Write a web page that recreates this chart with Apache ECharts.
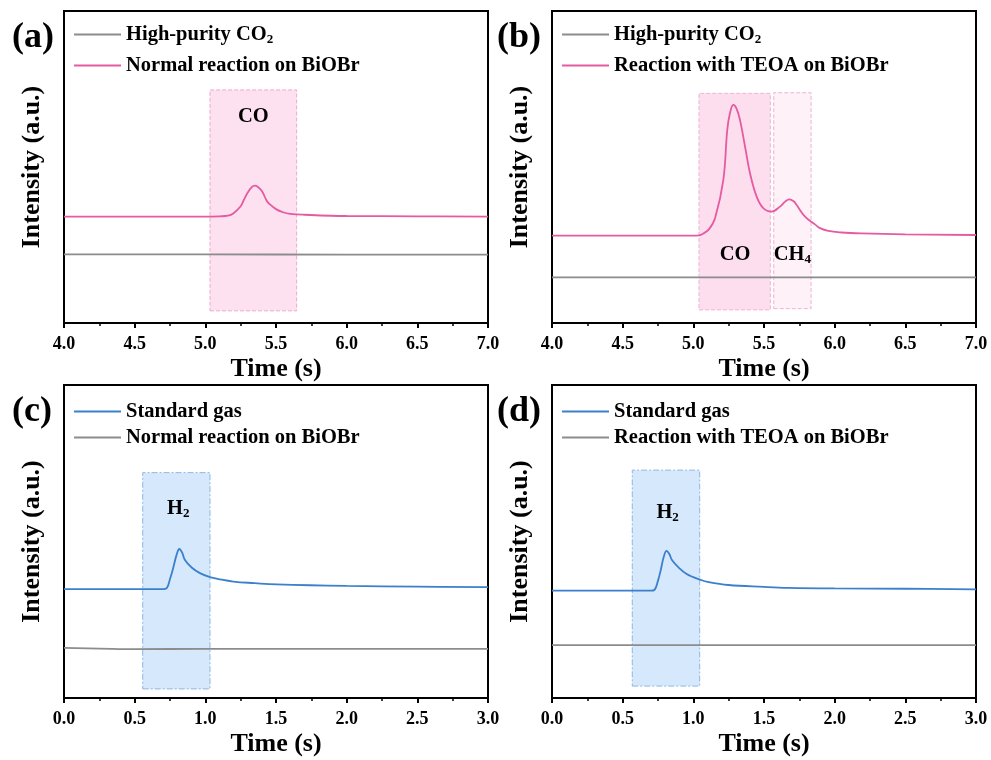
<!DOCTYPE html>
<html><head><meta charset="utf-8">
<script src="https://cdn.jsdelivr.net/npm/echarts@6/dist/echarts.min.js"></script>
<style>html,body{margin:0;padding:0;background:#fff}#c{width:991px;height:760px}</style>
</head><body><div id="c"></div>
<script>
// ---------- DATA ----------
// Panel (a)
const timeA_pink = [4.0, 5.0, 5.1, 5.16, 5.2, 5.25, 5.27, 5.3, 5.33, 5.35, 5.37, 5.4, 5.434, 5.45, 5.5, 5.55, 5.6, 5.7, 6.0, 6.5, 7.0];
const valA_pink  = [34.1, 34.1, 34.2, 34.4, 35.2, 37.4, 39.2, 41.8, 43.6, 44.0, 43.7, 42.3, 39.2, 38.3, 36.5, 35.5, 35.0, 34.7, 34.3, 34.2, 34.1];
const timeA_gray = [4.0, 5.0, 6.0, 7.0];
const valA_gray  = [22.0, 22.0, 21.9, 21.9];
// Panel (b)
const timeB_pink = [4.0, 5.0, 5.04, 5.071, 5.11, 5.153, 5.212, 5.24, 5.259, 5.283, 5.305, 5.33, 5.366, 5.401, 5.448, 5.495, 5.554, 5.613, 5.65, 5.679, 5.71, 5.731, 5.79, 5.861, 5.896, 5.955, 6.05, 6.191, 6.5, 7.0];
const valB_pink  = [28.0, 28.0, 28.1, 28.7, 30.0, 33.5, 45.8, 61.9, 67.2, 69.9, 68.8, 65.1, 56.5, 48.0, 40.5, 36.8, 35.7, 37.3, 38.9, 39.6, 39.0, 37.8, 34.1, 31.6, 30.4, 29.5, 29.0, 28.7, 28.4, 28.2];
const timeB_gray = [4.0, 5.0, 6.0, 7.0];
const valB_gray  = [14.6, 14.6, 14.6, 14.6];
// Panel (c)
const timeC_blue = [0.0, 0.5, 0.70, 0.727, 0.75, 0.773, 0.797, 0.816, 0.835, 0.856, 0.903, 0.962, 1.033, 1.092, 1.198, 1.35, 1.505, 2.0, 2.5, 3.0];
const valC_blue  = [34.8, 34.8, 34.8, 35.1, 38.0, 41.6, 45.8, 47.6, 46.5, 44.1, 41.7, 39.9, 38.6, 38.0, 37.2, 36.7, 36.3, 35.8, 35.6, 35.4];
const timeC_gray = [0.0, 0.25, 0.5, 1.0, 2.0, 3.0];
const valC_gray  = [16.0, 15.8, 15.6, 15.7, 15.7, 15.7];
// Panel (d)
const timeD_blue = [0.0, 0.5, 0.70, 0.724, 0.75, 0.77, 0.79, 0.811, 0.83, 0.85, 0.90, 0.95, 1.0, 1.047, 1.1, 1.248, 1.5, 1.67, 2.0, 2.5, 3.0];
const valD_blue  = [34.3, 34.3, 34.3, 34.5, 37.5, 41.0, 45.0, 47.0, 46.0, 44.0, 41.5, 39.7, 38.6, 37.8, 37.1, 36.1, 35.5, 35.2, 35.0, 34.9, 34.7];
const timeD_gray = [0.0, 1.0, 2.0, 3.0];
const valD_gray  = [16.9, 16.9, 16.9, 16.9];
// Shaded regions [xStart, xEnd, yBottom, yTop]
const boxesA = [[5.033, 5.646, 3.9, 74.7]];
const boxesB = [[5.040, 5.545, 4.2, 73.6], [5.569, 5.833, 4.6, 73.8]];
const boxesC = [[0.557, 1.033, 2.9, 72.0]];
const boxesD = [[0.568, 1.045, 3.8, 72.8]];
// Box labels [x, y, text]
const labelsA = [[5.34, 66.0, '{n|CO}']];
const labelsB = [[5.295, 21.8, '{n|CO}'], [5.70, 21.8, '{n|CH}{s|4}']];
const labelsC = [[0.809, 60.6, '{n|H}{s|2}']];
const labelsD = [[0.818, 59.1, '{n|H}{s|2}']];
// Axis ticks
const xTicksTop = [4.0, 7.0, 0.5];
const xTicksBottom = [0.0, 3.0, 0.5];
const panelLetters = ['(a)', '(b)', '(c)', '(d)'];
const legendA = ['High-purity CO2', 'Normal reaction on BiOBr'];
const legendB = ['High-purity CO2', 'Reaction with TEOA on BiOBr'];
const legendC = ['Standard gas', 'Normal reaction on BiOBr'];
const legendD = ['Standard gas', 'Reaction with TEOA on BiOBr'];

// ---------- STYLE ----------
const FONT = "'Liberation Serif','Times New Roman',serif";
const PINK = '#E65AA0', GRAY = '#8C8C8C', BLUE = '#3A80CC';
const rich = {
  n: {fontFamily: FONT, fontWeight: 'bold', fontSize: 20.5, color: '#000'},
  s: {fontFamily: FONT, fontWeight: 'bold', fontSize: 13, color: '#000', padding: [10, 0, 0, 0]}
};
function fmt(name) {
  const m = name.match(/^(.*CO)2$/);
  if (m) return '{n|' + m[1] + '}{s|2}';
  return '{n|' + name + '}';
}

const grids = [
  {left: 64, top: 11, width: 424, height: 312},
  {left: 552, top: 11, width: 424, height: 312},
  {left: 64, top: 385, width: 424, height: 313},
  {left: 552, top: 385, width: 424, height: 313}
];

function xAxis(i, t) {
  return {
    type: 'value', gridIndex: i, min: t[0], max: t[1], interval: t[2],
    name: 'Time (s)', nameLocation: 'middle', nameGap: 33,
    nameTextStyle: {fontFamily: FONT, fontWeight: 'bold', fontSize: 26, color: '#000'},
    axisLine: {show: true, lineStyle: {color: '#000', width: 2}},
    axisTick: {show: true, length: 5, lineStyle: {color: '#000', width: 2}},
    minorTick: {show: true, splitNumber: 2, length: 3, lineStyle: {color: '#000', width: 1.5}},
    axisLabel: {fontFamily: FONT, fontWeight: 'bold', fontSize: 18, color: '#000', margin: 12,
      formatter: v => v.toFixed(1)},
    splitLine: {show: false}
  };
}
function yAxis(i) {
  return {
    type: 'value', gridIndex: i, min: 0, max: 100,
    name: 'Intensity (a.u.)', nameLocation: 'middle', nameGap: 19,
    nameTextStyle: {fontFamily: FONT, fontWeight: 'bold', fontSize: 26, color: '#000'},
    axisLine: {show: false}, axisTick: {show: false}, axisLabel: {show: false}, splitLine: {show: false}
  };
}
function lineSeries(name, xs, ys, color, i) {
  return {
    type: 'line', name: name, xAxisIndex: i, yAxisIndex: i,
    data: xs.map((x, k) => [x, ys[k]]),
    showSymbol: false, symbol: 'none', smooth: 0.4,
    color: color, lineStyle: {width: 1.8, color: color}, z: 3, silent: true
  };
}
function boxSeries(i, boxes, fills, border, dash) {
  return {
    type: 'line', xAxisIndex: i, yAxisIndex: i, data: [], silent: true, z: 1,
    markArea: {
      silent: true,
      data: boxes.map((b, k) => [
        {xAxis: b[0], yAxis: b[2], itemStyle: {color: fills[k], borderColor: border, borderWidth: 1, borderType: dash}},
        {xAxis: b[1], yAxis: b[3]}
      ])
    }
  };
}
function labelSeries(i, labels) {
  return {
    type: 'scatter', xAxisIndex: i, yAxisIndex: i, symbolSize: 0, silent: true, z: 4,
    itemStyle: {opacity: 1},
    data: labels.map(l => ({value: [l[0], l[1]], label: {formatter: l[2]}})),
    label: {show: true, position: 'inside', color: '#000', opacity: 1, textBorderWidth: 0, rich: rich}
  };
}
function legend(i, names, displayNames, left, top, gap) {
  return {
    orient: 'vertical', left: left, top: top, padding: 0, itemGap: gap,
    itemWidth: 47, itemHeight: 2, icon: 'rect', selectedMode: false,
    data: names,
    formatter: name => fmt(displayNames[names.indexOf(name)]),
    textStyle: {rich: rich}
  };
}
const dashDot = [6, 2, 2, 2];
const option = {
  animation: false,
  backgroundColor: '#fff',
  title: panelLetters.map((t, i) => ({
    text: t, left: [12, 497, 12, 497][i], top: [20, 20, 394, 394][i], padding: 0,
    textStyle: {fontFamily: FONT, fontWeight: 'bold', fontSize: 36, color: '#000'}
  })),
  grid: grids.map(g => Object.assign({show: true, borderColor: '#000', borderWidth: 2, backgroundColor: 'transparent'}, g)),
  xAxis: [xAxis(0, xTicksTop), xAxis(1, xTicksTop), xAxis(2, xTicksBottom), xAxis(3, xTicksBottom)],
  yAxis: [yAxis(0), yAxis(1), yAxis(2), yAxis(3)],
  legend: [
    legend(0, ['a1', 'a2'], legendA, 74, 24, 9),
    legend(1, ['b1', 'b2'], legendB, 562, 24, 9),
    legend(2, ['c1', 'c2'], legendC, 74, 401, 5),
    legend(3, ['d1', 'd2'], legendD, 562, 401, 5)
  ],
  series: [
    boxSeries(0, boxesA, ['rgba(251,205,230,0.6)'], '#EFA9CB', 'dashed'),
    boxSeries(1, boxesB, ['rgba(251,205,230,0.65)', 'rgba(251,215,235,0.35)'], '#EFB3D0', 'dashed'),
    boxSeries(2, boxesC, ['rgba(180,214,247,0.55)'], '#8FB7E2', dashDot),
    boxSeries(3, boxesD, ['rgba(180,214,247,0.55)'], '#8FB7E2', dashDot),
    lineSeries('a1', timeA_gray, valA_gray, GRAY, 0),
    lineSeries('a2', timeA_pink, valA_pink, PINK, 0),
    lineSeries('b1', timeB_gray, valB_gray, GRAY, 1),
    lineSeries('b2', timeB_pink, valB_pink, PINK, 1),
    lineSeries('c1', timeC_blue, valC_blue, BLUE, 2),
    lineSeries('c2', timeC_gray, valC_gray, GRAY, 2),
    lineSeries('d1', timeD_blue, valD_blue, BLUE, 3),
    lineSeries('d2', timeD_gray, valD_gray, GRAY, 3),
    labelSeries(0, labelsA), labelSeries(1, labelsB), labelSeries(2, labelsC), labelSeries(3, labelsD)
  ]
};
const chart = echarts.init(document.getElementById('c'), null, {renderer: 'canvas'});
chart.setOption(option);
</script>
</body></html>
